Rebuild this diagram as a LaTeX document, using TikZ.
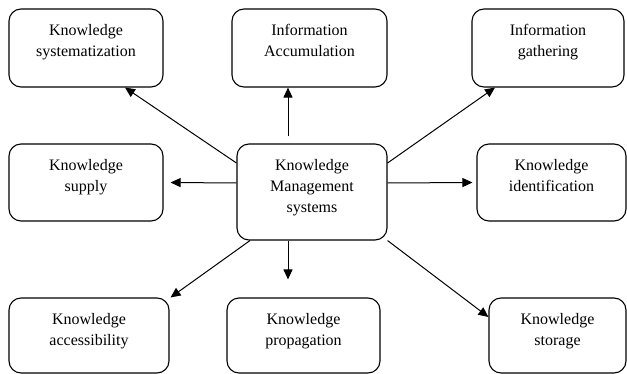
\documentclass[tikz,border=0pt]{standalone}
\usepackage{fontspec}
\setmainfont{Liberation Serif}
\usepackage{tikz}
\usetikzlibrary{calc,arrows.meta}
\tikzset{
  box/.style={draw=black, line width=1.1pt, rounded corners=12pt, align=center,
    inner sep=0pt, text height=26.5pt, font=\fontsize{16}{21}\selectfont},
  arr/.style={draw=black, line width=1pt, -{Triangle[length=10pt,width=9pt]}},
}

\begin{document}
\begin{tikzpicture}[x=1pt,y=-1pt]
  \useasboundingbox (0,0) rectangle (627,374);
  % centre box
  \node[box, text width=150pt, text depth=69.5pt] (kms) at (312,192) {Knowledge\\Management\\systems};
  % top row
  \node[box, text width=154pt, text depth=51.5pt] (sys) at (86,48) {Knowledge\\systematization};
  \node[box, text width=155pt, text depth=51.5pt] (acm) at (309.5,48) {Information\\Accumulation};
  \node[box, text width=152pt, text depth=51.5pt] (gat) at (548,48) {Information\\gathering};
  % middle row
  \node[box, text width=154pt, text depth=50.5pt] (sup) at (86,182.5) {Knowledge\\supply};
  \node[box, text width=149pt, text depth=50.5pt] (ide) at (551.5,182.5) {Knowledge\\identification};
  % bottom row
  \node[box, text width=160pt, text depth=48.5pt] (acs) at (89,335.5) {Knowledge\\accessibility};
  \node[box, text width=153pt, text depth=48.5pt] (pro) at (303.5,335.5) {Knowledge\\propagation};
  \node[box, text width=137pt, text depth=48.5pt] (sto) at (557.5,335.5) {Knowledge\\storage};
  % arrows out of the centre
  \draw[arr] ($(kms.west)+(0,-29)$) -- ($(sys.south)+(39,0)$);
  \draw[arr] ($(kms.north)+(-24,-7)$) -- ($(acm.south)+(-21.5,0)$);
  \draw[arr] ($(kms.east)+(0,-29)$) -- ($(gat.south)+(-53,0)$);
  \draw[arr] ($(kms.west)+(0,-9)$) -- ($(sup.east)+(7,0)$);
  \draw[arr] ($(kms.east)+(0,-9)$) -- ($(ide.west)+(-4,0)$);
  \draw[arr] ($(kms.south)+(-62,0)$) -- ($(acs.north east)+(1,0)$);
  \draw[arr] ($(kms.south)+(-24,0)$) -- ($(pro.north)+(-15.5,-18)$);
  \draw[arr] (kms.south east) -- ($(sto.west)+(0,-18.5)$);
\end{tikzpicture}
\end{document}
